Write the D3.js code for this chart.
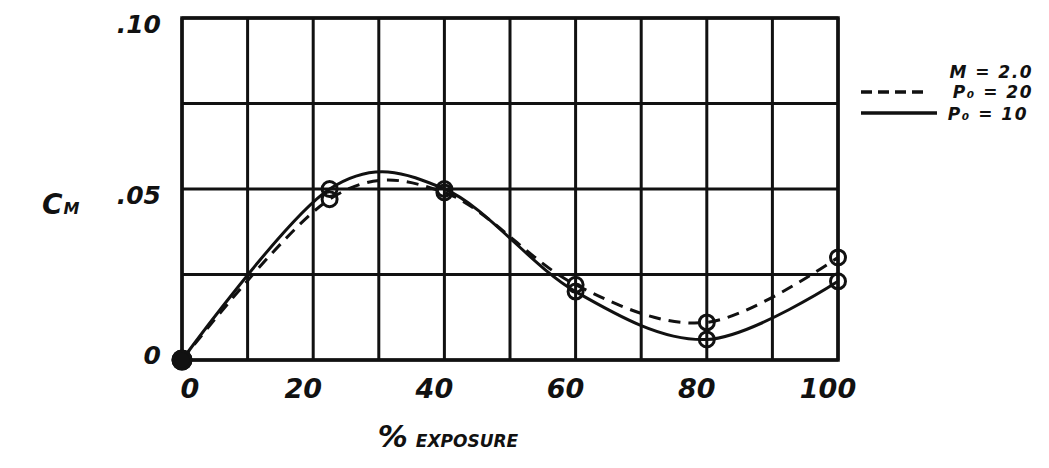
<!DOCTYPE html>
<html>
<head>
<meta charset="utf-8">
<script src="https://cdn.jsdelivr.net/npm/d3@7"></script>
<style>
  html, body { margin: 0; padding: 0; background: #ffffff; }
  svg { display: block; }
  text { font-family: "DejaVu Sans", sans-serif; font-weight: bold; font-style: italic; fill: #111; }
</style>
</head>
<body>
<svg id="chart" width="1049" height="468"></svg>
<script>
// ---- data ----
const exposure = [0, 22.5, 40, 60, 80, 100];            // % exposure of data points
const cmP20 = [0, 0.047, 0.049, 0.022, 0.011, 0.030];   // dashed, P0 = 20
const cmP10 = [0, 0.050, 0.050, 0.020, 0.006, 0.023];   // solid,  P0 = 10
const xTickValues = [0, 20, 40, 60, 80, 100];
const xTickLabels = ["0", "20", "40", "60", "80", "100"];
const yTickValues = [0, 0.05, 0.10];
const yTickLabels = ["0", ".05", ".10"];
const xGridValues = [0, 10, 20, 30, 40, 50, 60, 70, 80, 90, 100];
const yGridValues = [0, 0.025, 0.05, 0.075, 0.10];
const legendTitle = "M = 2.0";
const seriesNames = ["P\u2080 = 20", "P\u2080 = 10"];

const svg = d3.select("#chart");
const x = d3.scaleLinear().domain([0, 100]).range([182, 838]);
const y = d3.scaleLinear().domain([0, 0.10]).range([360, 18]);
const ink = "#111";

// grid
const g = svg.append("g");
g.selectAll("line.v").data(xGridValues).join("line")
  .attr("x1", d => x(d)).attr("x2", d => x(d))
  .attr("y1", y(0)).attr("y2", y(0.10))
  .attr("stroke", ink).attr("stroke-width", 3);
g.selectAll("line.h").data(yGridValues).join("line")
  .attr("y1", d => y(d)).attr("y2", d => y(d))
  .attr("x1", x(0)).attr("x2", x(100))
  .attr("stroke", ink).attr("stroke-width", 3);
g.append("rect")
  .attr("x", x(0)).attr("y", y(0.10))
  .attr("width", x(100) - x(0)).attr("height", y(0) - y(0.10))
  .attr("fill", "none").attr("stroke", ink).attr("stroke-width", 3.5);

// curves
const pts = (vals) => exposure.map((e, i) => [e, vals[i]]);
const line = d3.line().x(d => x(d[0])).y(d => y(d[1])).curve(d3.curveCatmullRom.alpha(0));
svg.append("path").attr("d", line(pts(cmP20)))
  .attr("fill", "none").attr("stroke", ink).attr("stroke-width", 3)
  .attr("stroke-dasharray", "12 8");
svg.append("path").attr("d", line(pts(cmP10)))
  .attr("fill", "none").attr("stroke", ink).attr("stroke-width", 3);

// markers
[cmP20, cmP10].forEach(vals => {
  svg.selectAll(null).data(pts(vals)).join("circle")
    .attr("cx", d => x(d[0])).attr("cy", d => y(d[1]))
    .attr("r", d => d[0] === 0 ? 9 : 7.5)
    .attr("fill", d => d[0] === 0 ? ink : "none")
    .attr("stroke", ink).attr("stroke-width", 3);
});

// x tick labels (hand lettering sits a little left of each grid line)
svg.selectAll("text.xt").data(xTickValues).join("text")
  .attr("x", d => Math.max(x(d) - 10, 190)).attr("y", 398)
  .attr("text-anchor", "middle").attr("font-size", 27)
  .text((d, i) => xTickLabels[i]);

// y tick labels
svg.selectAll("text.yt").data(yTickValues).join("text")
  .attr("x", 161).attr("y", d => Math.min(y(d) + 15, 364))
  .attr("text-anchor", "end").attr("font-size", 25)
  .text((d, i) => yTickLabels[i]);

// axis titles
const xt = svg.append("text").attr("x", 448).attr("y", 447).attr("text-anchor", "middle");
xt.append("tspan").attr("font-size", 30).text("%");
xt.append("tspan").attr("font-size", 17).attr("dx", 8).text("EXPOSURE");

const yt = svg.append("text").attr("x", 42).attr("y", 214);
yt.append("tspan").attr("font-size", 28).text("C");
yt.append("tspan").attr("font-size", 16).attr("dx", 1).text("M");

// legend
svg.append("text").attr("x", 1033).attr("y", 78).attr("text-anchor", "end")
  .attr("font-size", 17).attr("letter-spacing", 1.5).text(legendTitle);
svg.append("line").attr("x1", 861).attr("x2", 926).attr("y1", 92).attr("y2", 92)
  .attr("stroke", ink).attr("stroke-width", 3.5).attr("stroke-dasharray", "11 6");
svg.append("text").attr("x", 1033).attr("y", 98).attr("text-anchor", "end")
  .attr("font-size", 17).attr("letter-spacing", 1.5).text(seriesNames[0]);
svg.append("line").attr("x1", 861).attr("x2", 937).attr("y1", 113).attr("y2", 113)
  .attr("stroke", ink).attr("stroke-width", 3.5);
svg.append("text").attr("x", 1028).attr("y", 120).attr("text-anchor", "end")
  .attr("font-size", 17).attr("letter-spacing", 1.5).text(seriesNames[1]);
</script>
</body>
</html>
